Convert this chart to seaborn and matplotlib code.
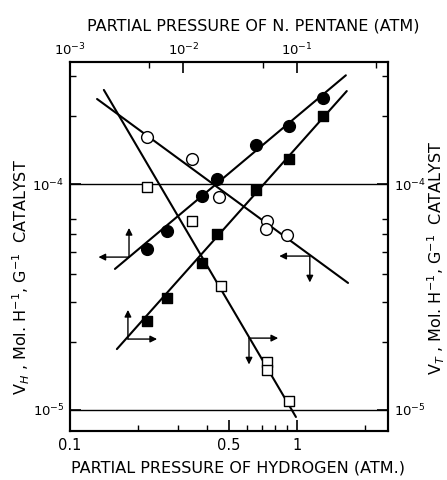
import matplotlib
matplotlib.use('Agg')
import matplotlib.pyplot as plt
import seaborn as sns

# --- data (log-log) ---
# open circles: V_H vs partial pressure of H2
h2_open_circ = [0.218, 0.344, 0.453, 0.738, 0.733, 0.904]
vh_open_circ = [1.61e-4, 1.29e-4, 8.76e-5, 6.86e-5, 6.32e-5, 5.94e-5]
# open squares: V_T vs partial pressure of H2
h2_open_sq = [0.218, 0.344, 0.462, 0.738, 0.738, 0.923]
vt_open_sq = [9.7e-5, 6.86e-5, 3.54e-5, 1.63e-5, 1.50e-5, 1.10e-5]
# filled circles / squares: V_H and V_T vs partial pressure of n-pentane
pent_filled = [4.76e-3, 7.16e-3, 1.46e-2, 1.97e-2, 4.36e-2, 8.51e-2, 0.170]
vh_filled_circ = [5.15e-5, 6.2e-5, 8.85e-5, 1.05e-4, 1.49e-4, 1.81e-4, 2.40e-4]
vt_filled_sq = [2.48e-5, 3.13e-5, 4.47e-5, 6.01e-5, 9.4e-5, 1.29e-4, 2.0e-4]

# drawn straight lines (end points)
h2_line_circ = [0.1316, 1.68]
v_line_open_circ = [2.38e-4, 3.65e-5]
h2_line_sq = [0.141, 0.99]
v_line_open_sq = [2.61e-4, 9.31e-6]
pent_line_circ = [2.49e-3, 0.270]
v_line_filled_circ = [4.21e-5, 3.03e-4]
pent_line_sq = [2.59e-3, 0.275]
v_line_filled_sq = [1.86e-5, 2.58e-4]

# axis arrow corners (H2 axis coords) and directions
arrow_h2 = [0.182, 0.180, 1.14, 0.615]
arrow_v = [4.75e-5, 2.06e-5, 4.8e-5, 2.08e-5]
arrow_dirs = [('left', 'up'), ('up', 'right'), ('left', 'down'), ('right', 'down')]

h2_lim = (0.1, 2.52)
v_lim = (8.07e-6, 3.47e-4)

sns.set_style('ticks')
plt.rcParams['font.family'] = ['DejaVu Sans']
for k in ('text.color', 'axes.labelcolor', 'xtick.color', 'ytick.color', 'axes.edgecolor'):
    plt.rcParams[k] = 'black'

fig = plt.figure(figsize=(4.47, 4.80), dpi=100)
ax = fig.add_axes([70 / 447, 1 - 431 / 480, 318 / 447, 369 / 480])
ax.set_xscale('log')
ax.set_yscale('log')
ax.set_xlim(*h2_lim)
ax.set_ylim(*v_lim)

# top axis: two decades of pentane per decade of hydrogen
ax_top = ax.twiny()
ax_top.set_xscale('log')
ax_top.set_xlim(1e-3, 1e-3 * (h2_lim[1] / h2_lim[0]) ** 2)

ax.axhline(1e-4, color='black', lw=1.0, zorder=1)
ax.axhline(1e-5, color='black', lw=1.0, zorder=1)

lw = 1.5
sns.lineplot(x=h2_line_circ, y=v_line_open_circ, ax=ax, color='black', lw=lw)
sns.lineplot(x=h2_line_sq, y=v_line_open_sq, ax=ax, color='black', lw=lw)
sns.lineplot(x=pent_line_circ, y=v_line_filled_circ, ax=ax_top, color='black', lw=lw)
sns.lineplot(x=pent_line_sq, y=v_line_filled_sq, ax=ax_top, color='black', lw=lw)

sns.scatterplot(x=h2_open_circ, y=vh_open_circ, ax=ax, marker='o', s=72,
                color='white', edgecolor='black', linewidth=1.0, zorder=3)
sns.scatterplot(x=h2_open_sq, y=vt_open_sq, ax=ax, marker='s', s=46,
                color='white', edgecolor='black', linewidth=1.0, zorder=3)
sns.scatterplot(x=pent_filled, y=vh_filled_circ, ax=ax_top, marker='o', s=72,
                color='black', edgecolor='black', linewidth=1.0, zorder=3)
sns.scatterplot(x=pent_filled, y=vt_filled_sq, ax=ax_top, marker='s', s=46,
                color='black', edgecolor='black', linewidth=1.0, zorder=3)

# arrows showing which axes belong to each set
offsets = {'left': (-22, 0), 'right': (21, 0), 'up': (0, 21), 'down': (0, -19)}
for xh, yv, dirs in zip(arrow_h2, arrow_v, arrow_dirs):
    for d in dirs:
        ax.annotate('', xy=(xh, yv), xytext=offsets[d], textcoords='offset points',
                    arrowprops=dict(arrowstyle='<|-', color='black', lw=1.0,
                                    shrinkA=0, shrinkB=0, mutation_scale=10))

# ticks
ax.set_xticks([0.1, 0.5, 1])
ax.set_xticklabels(['0.1', '0.5', '1'])
ax.set_xticks([0.2, 0.3, 0.4, 0.6, 0.7, 0.8, 0.9, 2], minor=True)
ax.set_xticklabels([], minor=True)
ax.set_yticks([1e-5, 1e-4])
ax.set_yticklabels([r'$10^{-5}$', r'$10^{-4}$'])
ax.set_yticks([2e-5, 3e-5, 4e-5, 5e-5, 6e-5, 7e-5, 2e-4, 3e-4], minor=True)
ax.set_yticklabels([], minor=True)
ax.tick_params(axis='x', which='both', direction='in', top=False, labelsize=10.5, pad=5)
ax.tick_params(axis='y', which='both', direction='in', left=True, right=True,
               labelleft=True, labelright=True, labelsize=9.5, pad=4)
ax.tick_params(which='major', length=8, width=1.2)
ax.tick_params(which='minor', length=4, width=1.0)

ax_top.set_xticks([1e-3, 1e-2, 1e-1])
ax_top.set_xticklabels([r'$10^{-3}$', r'$10^{-2}$', r'$10^{-1}$'])
ax_top.set_xticks([5e-3, 5e-2, 5e-1], minor=True)
ax_top.set_xticklabels([], minor=True)
ax_top.tick_params(axis='x', which='both', direction='in', labelsize=9.5, pad=3)
ax_top.tick_params(which='major', length=8, width=1.2)
ax_top.tick_params(which='minor', length=4, width=1.0)

for a in (ax, ax_top):
    for sp in a.spines.values():
        sp.set_linewidth(1.5)
        sp.set_visible(True)

ax.set_xlabel('PARTIAL PRESSURE OF HYDROGEN (ATM.)', fontsize=11.5)
ax.xaxis.set_label_coords((238 - 70) / 318, -0.08)
ax_top.set_xlabel('PARTIAL PRESSURE OF N. PENTANE (ATM)', fontsize=11.5)
ax_top.xaxis.set_label_coords((253 - 70) / 318, 1.085)

ax.set_ylabel(r'V$_H$ , Mol. H$^{-1}$, G$^{-1}$  CATALYST', fontsize=11.5)
ax.yaxis.set_label_coords(-0.12, 0.417)
ax.text((436 - 70) / 318, 0.469, r'V$_T$ , Mol. H$^{-1}$, G$^{-1}$  CATALYST', fontsize=11.5,
        rotation=90, transform=ax.transAxes, ha='center', va='center')

fig.savefig('out.png', dpi=100)
plt.close(fig)
